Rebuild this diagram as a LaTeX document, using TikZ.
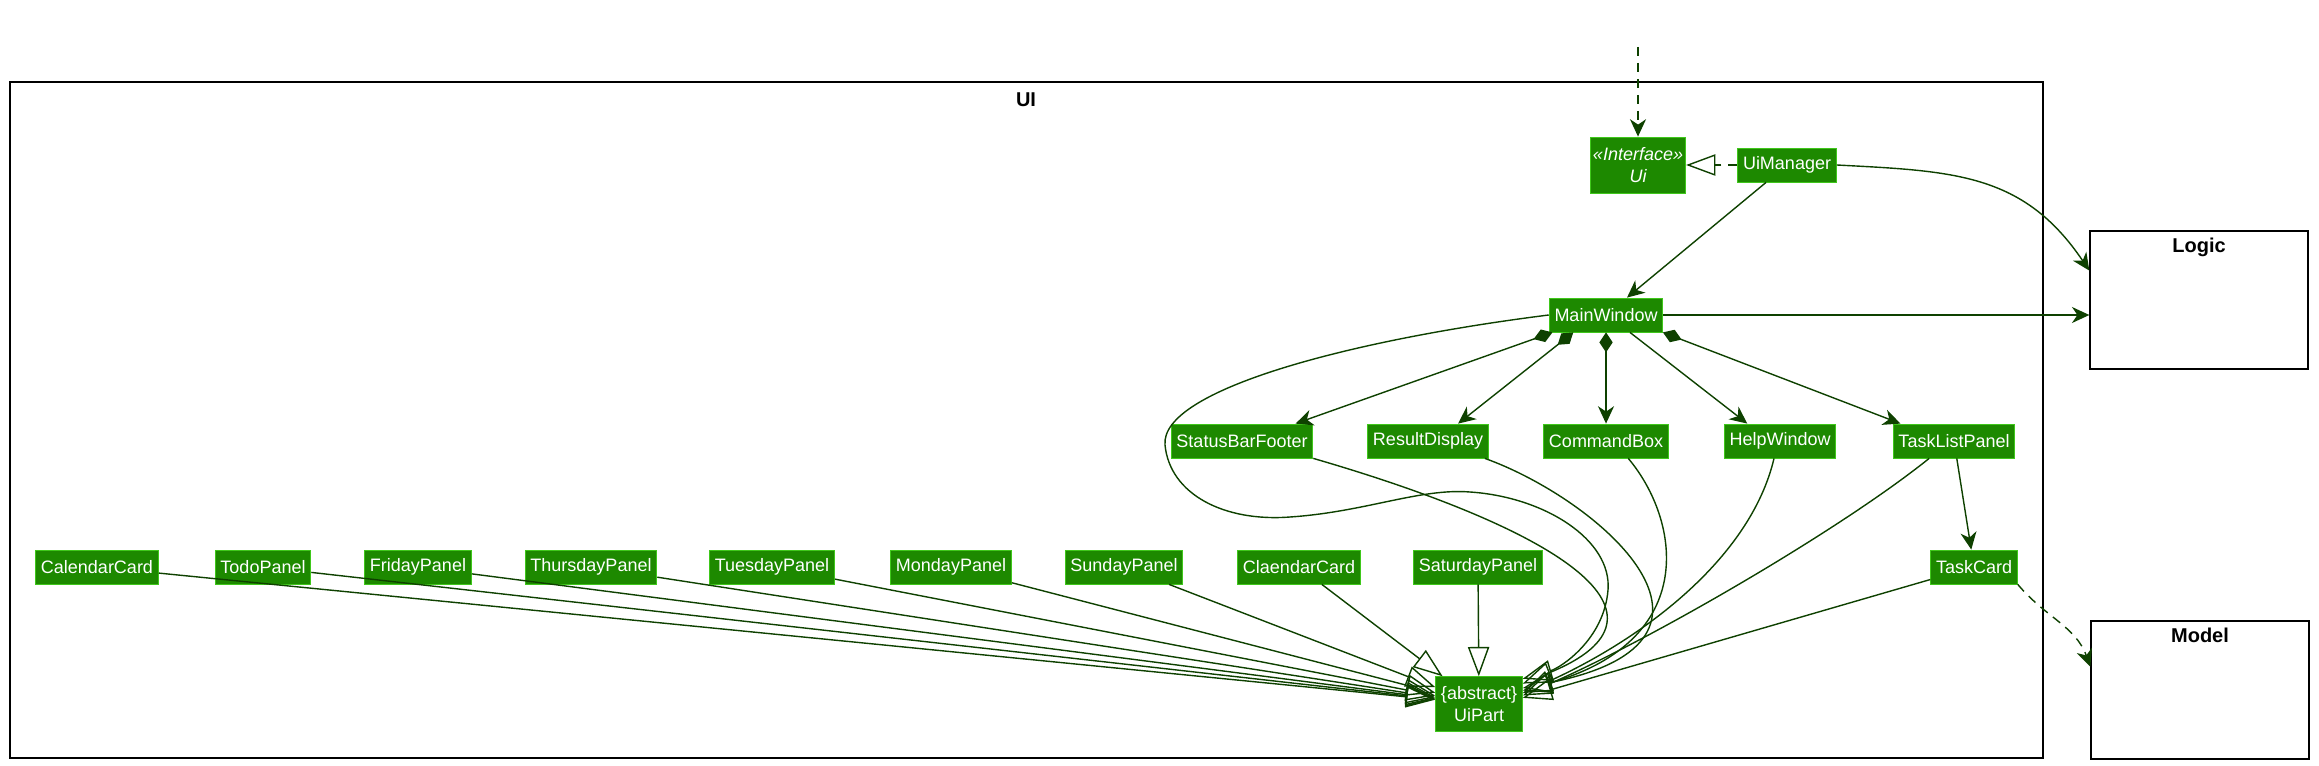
\documentclass[tikz,border=0pt]{standalone}
\usepackage{fontspec}
\setmainfont{Liberation Sans}
\usepackage{tikz}
\usetikzlibrary{arrows.meta,positioning}
\definecolor{uicolor}{HTML}{1D8900}
\definecolor{uiborder}{HTML}{3FC71B}
\definecolor{uiarrow}{HTML}{0E4100}
\tikzset{font=\fontsize{13.5}{16}\selectfont}
\tikzset{
  uiclass/.style={draw=uiborder, line width=0.6pt, fill=uicolor, text=white,
    inner xsep=4pt, inner ysep=0pt, minimum height=25.5pt, align=center},
  pkg/.style={draw=black, line width=1.5pt, minimum width=163pt, minimum height=103pt},
  pkgtitle/.style={font=\bfseries\fontsize{15}{18}\selectfont},
  assoc/.style={uiarrow, line width=1.05pt, -{Stealth[length=13pt,width=12pt,inset=4pt]}},
  dep/.style={assoc, dash pattern=on 7pt off 5pt},
  compose/.style={assoc, {Diamond[length=15pt,width=10pt]}-{Stealth[length=13pt,width=12pt,inset=4pt]}},
  inherit/.style={uiarrow, line width=1.05pt, -{Triangle[open,length=22pt,width=16pt]}},
  realize/.style={inherit, dash pattern=on 7pt off 5pt}
}

\begin{document}
\begin{tikzpicture}[x=0.75pt,y=0.75pt]
  \useasboundingbox (0,0) rectangle (2319,-766);

  % UI package
  \draw[line width=1.6pt] (10,-82) rectangle (2043,-758);
  \node[pkgtitle] (uititle) at (1026,-100) {UI};

  \node[uiclass, inner xsep=2pt, minimum height=42pt] (ui) at (1638,-165)
    {\itshape «Interface»\\\itshape Ui};
  \node[uiclass] (uimanager) at (1787,-165) {UiManager};
  \node[uiclass] (mainwindow) at (1606,-315) {MainWindow};

  \node[uiclass] (statusbar) at (1242,-441) {StatusBarFooter};
  \node[uiclass] (resultdisplay) at (1428,-441) {ResultDisplay};
  \node[uiclass] (commandbox) at (1606,-441) {CommandBox};
  \node[uiclass] (helpwindow) at (1780,-441) {HelpWindow};
  \node[uiclass] (tasklistpanel) at (1954,-441) {TaskListPanel};
  \node[uiclass] (taskcard) at (1974,-567) {TaskCard};

  \foreach \name/\x/\txt in {calendarcard/97/CalendarCard, todopanel/263/TodoPanel,
      fridaypanel/418/FridayPanel, thursdaypanel/591/ThursdayPanel,
      tuesdaypanel/772/TuesdayPanel, mondaypanel/951/MondayPanel,
      sundaypanel/1124/SundayPanel, claendarcard/1299/ClaendarCard,
      saturdaypanel/1478/SaturdayPanel}
    \node[uiclass] (\name) at (\x,-567) {\txt};

  \node[uiclass, minimum height=41pt] (uipart) at (1479,-704) {\{abstract\}\\UiPart};

  % other packages
  \node[pkg] (logic) at (2199,-300) {};
  \node[pkgtitle, below=2pt] (logictitle) at (logic.north) {Logic};
  \node[pkg] (model) at (2200,-690) {};
  \node[pkgtitle, below=2pt] (modeltitle) at (model.north) {Model};

  \coordinate (uientry) at (1638,-47);
  \draw[dep] (uientry) -- (ui);
  \draw[realize] (uimanager) -- (ui);
  \draw[assoc] (uimanager) -- (mainwindow);
  \draw[assoc] (uimanager.east) to[out=-3, in=124, looseness=1.1] (logic.165);
  \draw[assoc] (mainwindow.east) -- (mainwindow.east -| logic.west);

  \draw[compose] (mainwindow.-162) -- (statusbar.18);
  \draw[compose] (mainwindow.-152) -- (resultdisplay.30);
  \draw[compose] (mainwindow.south) -- (commandbox.north);
  \draw[assoc] (mainwindow.-36) -- (helpwindow.152);
  \draw[compose] (mainwindow.-17) -- (tasklistpanel.162);
  \draw[assoc] (tasklistpanel) -- (taskcard);
  \draw[dep] (taskcard.south east) to[out=-50, in=110] (model.168);

  % everything is a UiPart
  \foreach \name in {calendarcard, todopanel, fridaypanel, thursdaypanel, tuesdaypanel,
      mondaypanel, sundaypanel, claendarcard, saturdaypanel}
    \draw[inherit] (\name) -- (uipart);
  \draw[inherit] (mainwindow.west) .. controls (1350,-340) and (1160,-390) .. (1165,-445)
    .. controls (1170,-495) and (1225,-522) .. (1290,-517)
    .. controls (1365,-512) and (1420,-488) .. (1470,-492)
    .. controls (1545,-497) and (1612,-540) .. (1608,-590)
    .. controls (1604,-640) and (1560,-668) .. (uipart.30);
  \draw[inherit] (statusbar.south east) .. controls (1560,-530) and (1690,-615) .. (uipart.25);
  \draw[inherit] (resultdisplay.-17) .. controls (1600,-500) and (1760,-640) .. (uipart.20);
  \draw[inherit] (commandbox.-38) .. controls (1680,-520) and (1700,-640) .. (uipart.17);
  \draw[inherit] (helpwindow.-109) .. controls (1750,-560) and (1640,-640) .. (uipart.14);
  \draw[inherit] (tasklistpanel.-145) .. controls (1840,-530) and (1650,-640) .. (uipart.11);
  \draw[inherit] (taskcard.-164) -- (uipart.8);
\end{tikzpicture}
\end{document}
